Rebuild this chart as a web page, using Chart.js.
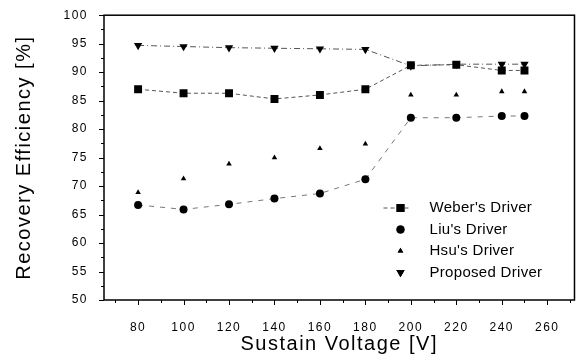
<!DOCTYPE html>
<html>
<head>
<meta charset="utf-8">
<script src="https://cdn.jsdelivr.net/npm/chart.js@4/dist/chart.umd.min.js"></script>
<style>
  html, body { margin: 0; padding: 0; background: #fff; }
  #wrap { width: 582px; height: 358px; position: relative; }
</style>
</head>
<body>
<div id="wrap"><canvas id="effChart"></canvas></div>
<script>
// tensões (V)
const voltages = [80, 100, 120, 140, 160, 180, 200, 220, 240, 250];

// eficiência de recuperação (%)
const weber    = [87.0, 86.3, 86.3, 85.3, 86.0, 87.0, 91.2, 91.3, 90.3, 90.3];
const liu      = [66.7, 65.9, 66.8, 67.8, 68.7, 71.2, 82.0, 82.0, 82.3, 82.3];
const hsu      = [68.9, 71.3, 73.9, 75.0, 76.6, 77.4, 86.0, 86.0, 86.6, 86.6];
const proposed = [94.7, 94.5, 94.3, 94.2, 94.1, 94.0, 91.1, 91.4, 91.4, 91.4];

const seriesNames = ["Weber's Driver", "Liu's Driver", "Hsu's Driver", "Proposed Driver"];

const xTicks = [70, 80, 90, 100, 110, 120, 130, 140, 150, 160, 170, 180, 190, 200, 210, 220, 230, 240, 250, 260, 270];
const yTicks = [50, 52.5, 55, 57.5, 60, 62.5, 65, 67.5, 70, 72.5, 75, 77.5, 80, 82.5, 85, 87.5, 90, 92.5, 95, 97.5, 100];

function pts(values) {
    return voltages.map((v, i) => ({ x: v, y: values[i] }));
}

const FONT = "'Liberation Sans', Arial, sans-serif";

// moldura, marcas de escala e legenda
const framePlugin = {
    id: 'frame',
    beforeDraw(chart) {
        chart.ctx.letterSpacing = '1.5px';
    },
    afterDraw(chart) {
        const ctx = chart.ctx;
        const a = chart.chartArea;
        ctx.save();
        ctx.letterSpacing = '0px';
        ctx.strokeStyle = '#000';
        ctx.lineWidth = 1.5;
        ctx.strokeRect(a.left, a.top, a.right - a.left, a.bottom - a.top);

        ctx.lineWidth = 1;
        const xs = chart.scales.x;
        xs.ticks.forEach(t => {
            const px = Math.round(xs.getPixelForValue(t.value)) + 0.5;
            const len = t.value % 20 === 0 ? 5 : 3;
            ctx.beginPath();
            ctx.moveTo(px, a.bottom);
            ctx.lineTo(px, a.bottom + len);
            ctx.stroke();
        });
        const ys = chart.scales.y;
        ys.ticks.forEach(t => {
            const py = Math.round(ys.getPixelForValue(t.value)) + 0.5;
            const len = t.value % 5 === 0 ? 5 : 3;
            ctx.beginPath();
            ctx.moveTo(a.left, py);
            ctx.lineTo(a.left - len, py);
            ctx.stroke();
        });

        // legenda (só a do Weber tem linha)
        const lx = a.right - 174;
        const ly = a.bottom - 92;
        ctx.font = '15px ' + FONT;
        ctx.letterSpacing = '0.3px';
        ctx.textBaseline = 'middle';
        ctx.textAlign = 'left';
        chart.data.datasets.forEach((ds, i) => {
            const y = ly + i * 21.5;
            if (ds.legendLine) {
                ctx.save();
                ctx.strokeStyle = ds.borderColor;
                ctx.lineWidth = 1;
                ctx.setLineDash(ds.borderDash || []);
                ctx.beginPath();
                ctx.moveTo(lx - 17, y);
                ctx.lineTo(lx + 11, y);
                ctx.stroke();
                ctx.restore();
            }
            ctx.fillStyle = '#000';
            Chart.helpers.drawPoint(ctx, {
                pointStyle: ds.pointStyle,
                rotation: ds.pointRotation || 0,
                radius: ds.pointRadius,
                borderWidth: 0
            }, lx, y);
            ctx.fill();
            ctx.fillText(ds.label, lx + 29, y);
        });
        ctx.restore();
    }
};

const ctx = document.getElementById('effChart').getContext('2d');

const config = {
    type: 'scatter',
    data: {
        datasets: [
            {
                label: seriesNames[0],
                data: pts(weber),
                showLine: true,
                legendLine: true,
                borderColor: '#555',
                borderWidth: 1,
                borderDash: [4, 3],
                pointStyle: 'rect',
                pointRadius: 5.6,
                backgroundColor: '#000',
                pointBorderWidth: 0
            },
            {
                label: seriesNames[1],
                data: pts(liu),
                showLine: true,
                borderColor: '#777',
                borderWidth: 1,
                borderDash: [5, 6],
                pointStyle: 'circle',
                pointRadius: 4,
                backgroundColor: '#000',
                pointBorderWidth: 0
            },
            {
                label: seriesNames[2],
                data: pts(hsu),
                showLine: false,
                pointStyle: 'triangle',
                pointRadius: 3.2,
                backgroundColor: '#000',
                pointBorderWidth: 0
            },
            {
                label: seriesNames[3],
                data: pts(proposed),
                showLine: true,
                borderColor: '#555',
                borderWidth: 1,
                borderDash: [6, 3, 1, 3],
                pointStyle: 'triangle',
                pointRotation: 180,
                pointRadius: 4.8,
                backgroundColor: '#000',
                pointBorderWidth: 0
            }
        ]
    },
    options: {
        responsive: true,
        maintainAspectRatio: false,
        animation: false,
        layout: { padding: { top: 15, right: 3, left: 12, bottom: 2 } },
        plugins: {
            legend: { display: false },
            tooltip: { enabled: false }
        },
        scales: {
            x: {
                type: 'linear',
                min: 65,
                max: 272,
                afterBuildTicks: s => { s.ticks = xTicks.map(v => ({ value: v })); },
                afterFit: s => { s.height = 56; },
                grid: { display: false },
                border: { display: false },
                ticks: {
                    color: '#000',
                    padding: 12,
                    font: { family: FONT, size: 12 },
                    maxRotation: 0,
                    autoSkip: false,
                    callback: v => (v % 20 === 0 && v >= 80 && v <= 260) ? v : ''
                },
                title: {
                    display: true,
                    text: 'Sustain Voltage [V]',
                    color: '#000',
                    font: { family: FONT, size: 20 },
                    padding: { top: 2, bottom: 0 }
                }
            },
            y: {
                min: 50,
                max: 100,
                afterBuildTicks: s => { s.ticks = yTicks.map(v => ({ value: v })); },
                afterFit: s => { s.width = 92; },
                grid: { display: false },
                border: { display: false },
                ticks: {
                    color: '#000',
                    padding: 8,
                    font: { family: FONT, size: 12 },
                    autoSkip: false,
                    callback: v => v % 5 === 0 ? v : ''
                },
                title: {
                    display: true,
                    text: 'Recovery Efficiency [%]',
                    color: '#000',
                    font: { family: FONT, size: 20 },
                    padding: { top: 0, bottom: 0 }
                }
            }
        }
    },
    plugins: [framePlugin]
};

const effChart = new Chart(ctx, config);
</script>
</body>
</html>
